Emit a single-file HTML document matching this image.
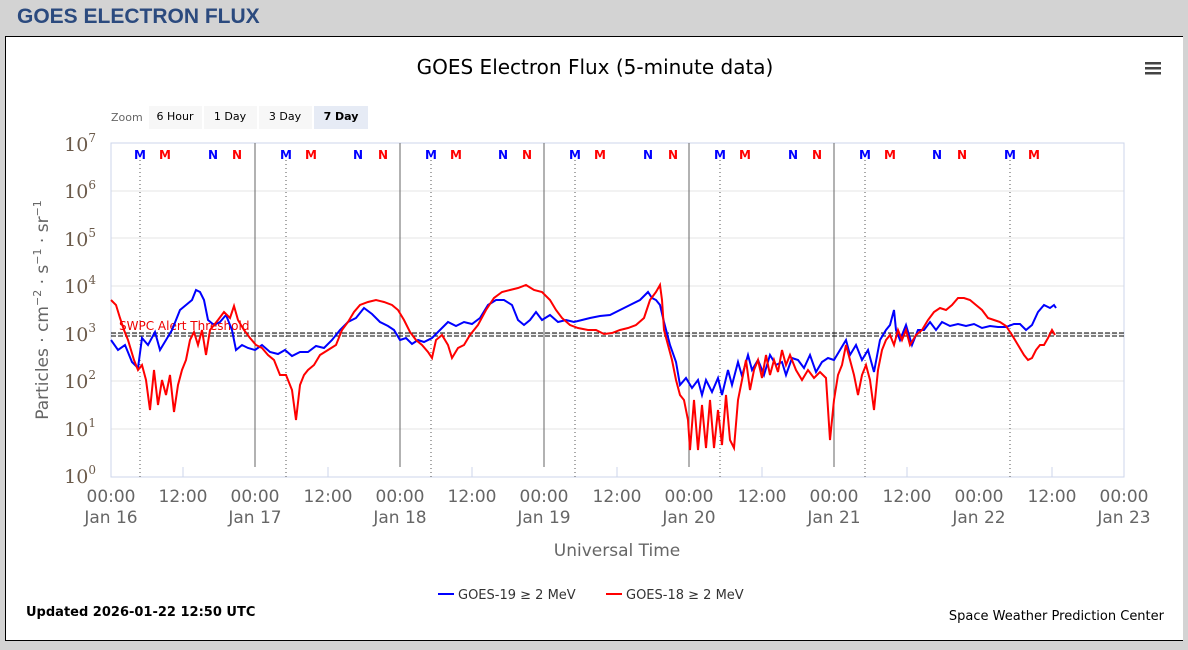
<!DOCTYPE html>
<html><head><meta charset="utf-8"><style>
body{margin:0;width:1188px;height:650px;background:#d3d3d3;overflow:hidden;font-family:"Liberation Sans",sans-serif}
.hdr{position:absolute;left:17px;top:5px;font-size:21px;font-weight:bold;color:#2b4a7e}
.box{position:absolute;left:5px;top:36px;width:1177px;height:603px;background:#fff;border:1px solid #000;border-right:none}
svg{position:absolute;left:0;top:0}
</style></head><body>
<div class="hdr">GOES ELECTRON FLUX</div>
<div class="box"></div>
<svg width="1188" height="650" font-family="DejaVu Sans, sans-serif">
<text x="595" y="74" text-anchor="middle" font-size="20" fill="#000">GOES Electron Flux (5-minute data)</text>
<g fill="#444"><rect x="1145" y="62" width="16" height="2.5"/><rect x="1145" y="67" width="16" height="2.5"/><rect x="1145" y="72" width="16" height="2.5"/></g>
<text x="111" y="121" font-size="11" fill="#666">Zoom</text>
<rect x="149" y="106" width="53" height="23" fill="#f7f7f7"/><text x="175" y="120" font-size="11" text-anchor="middle">6 Hour</text>
<rect x="204" y="106" width="53" height="23" fill="#f7f7f7"/><text x="230" y="120" font-size="11" text-anchor="middle">1 Day</text>
<rect x="259" y="106" width="53" height="23" fill="#f7f7f7"/><text x="285" y="120" font-size="11" text-anchor="middle">3 Day</text>
<rect x="314" y="106" width="54" height="23" fill="#e6ebf5"/><text x="341" y="120" font-size="11" text-anchor="middle" font-weight="bold">7 Day</text>
<g stroke="#e6e6e6"><line x1="111" x2="1124" y1="191" y2="191"/><line x1="111" x2="1124" y1="238" y2="238"/><line x1="111" x2="1124" y1="286" y2="286"/><line x1="111" x2="1124" y1="334" y2="334"/><line x1="111" x2="1124" y1="381" y2="381"/><line x1="111" x2="1124" y1="429" y2="429"/></g>
<rect x="111" y="143" width="1013" height="334" fill="none" stroke="#ccd6eb"/>
<g stroke="#666"><line x1="255" x2="255" y1="143" y2="467"/><line x1="400" x2="400" y1="143" y2="467"/><line x1="544" x2="544" y1="143" y2="467"/><line x1="689" x2="689" y1="143" y2="467"/><line x1="834" x2="834" y1="143" y2="467"/></g>
<g stroke="#555" stroke-dasharray="1,3"><line x1="140" x2="140" y1="160" y2="477"/><line x1="286" x2="286" y1="160" y2="477"/><line x1="431" x2="431" y1="160" y2="477"/><line x1="575" x2="575" y1="160" y2="477"/><line x1="720" x2="720" y1="160" y2="477"/><line x1="865" x2="865" y1="160" y2="477"/><line x1="1010" x2="1010" y1="160" y2="477"/></g>
<g font-size="12" font-weight="bold" text-anchor="middle">
<g fill="#00f"><text x="140" y="159">M</text><text x="286" y="159">M</text><text x="431" y="159">M</text><text x="575" y="159">M</text><text x="720" y="159">M</text><text x="865" y="159">M</text><text x="1010" y="159">M</text>
<text x="213" y="159">N</text><text x="358" y="159">N</text><text x="503" y="159">N</text><text x="648" y="159">N</text><text x="793" y="159">N</text><text x="937" y="159">N</text></g>
<g fill="#f00"><text x="165" y="159">M</text><text x="311" y="159">M</text><text x="456" y="159">M</text><text x="600" y="159">M</text><text x="745" y="159">M</text><text x="890" y="159">M</text><text x="1034" y="159">M</text>
<text x="237" y="159">N</text><text x="383" y="159">N</text><text x="527" y="159">N</text><text x="673" y="159">N</text><text x="817" y="159">N</text><text x="962" y="159">N</text></g></g>
<g stroke="#ccd6eb"><line x1="183" x2="183" y1="467" y2="477"/><line x1="328" x2="328" y1="467" y2="477"/><line x1="472" x2="472" y1="467" y2="477"/><line x1="617" x2="617" y1="467" y2="477"/><line x1="762" x2="762" y1="467" y2="477"/><line x1="907" x2="907" y1="467" y2="477"/><line x1="1052" x2="1052" y1="467" y2="477"/></g>
<g stroke="#000" stroke-dasharray="5,2"><line x1="111" x2="1124" y1="333" y2="333"/><line x1="111" x2="1124" y1="336" y2="336"/></g>
<text x="119" y="330" font-size="12" fill="#e00">SWPC Alert Threshold</text>
<polyline fill="none" stroke="#00f" stroke-width="2" points="111,340 118,350 125,345 132,362 138,368 142,338 148,345 155,332 160,350 166,340 172,330 180,310 186,305 192,300 196,290 200,292 204,300 208,320 214,325 220,322 226,315 232,330 236,350 242,345 248,348 255,350 262,345 270,352 278,354 285,350 292,356 300,352 308,352 316,346 324,348 332,340 340,330 348,322 356,318 364,308 372,314 380,322 388,326 394,330 400,340 406,338 412,344 418,340 424,342 432,338 440,330 448,322 456,326 464,322 472,324 480,318 488,305 496,300 504,300 512,305 518,320 524,325 530,320 536,312 542,320 550,315 558,322 566,320 574,322 582,320 590,318 600,316 610,315 620,310 630,305 640,300 648,292 652,298 656,300 660,305 664,322 670,345 676,362 680,385 686,378 692,388 698,380 702,395 706,380 712,392 718,378 722,395 728,370 732,385 738,362 742,376 748,355 752,370 758,360 764,375 770,355 776,365 782,362 786,375 792,358 798,360 804,368 810,355 816,372 822,362 828,358 834,360 840,350 846,340 850,355 856,345 862,360 868,350 874,372 880,340 886,330 890,325 894,310 896,330 900,340 906,325 912,345 918,330 924,330 930,322 936,330 942,322 950,326 958,324 966,326 974,324 982,328 990,326 998,327 1006,327 1014,324 1020,324 1026,330 1032,325 1038,312 1044,305 1050,308 1054,305 1056,308"/>
<polyline fill="none" stroke="#f00" stroke-width="2" points="111,300 116,305 120,318 124,330 128,340 134,360 138,370 142,365 146,380 150,410 154,370 158,405 162,380 166,395 170,375 174,412 178,385 182,370 186,360 190,340 194,332 198,345 202,330 206,355 210,330 214,325 218,320 224,312 230,318 234,306 238,320 244,330 250,338 256,345 262,348 268,355 274,360 280,375 286,375 292,390 296,420 300,385 304,375 308,370 314,365 320,355 328,350 336,345 342,330 348,322 354,312 360,305 368,302 376,300 384,302 392,305 398,310 404,320 410,332 416,340 422,345 428,352 432,358 436,340 442,335 448,345 452,358 458,348 464,345 470,335 478,325 486,310 494,298 502,292 510,290 518,288 526,285 534,290 542,292 550,300 556,310 562,318 570,325 578,328 588,330 596,330 604,334 612,333 620,330 628,328 636,325 644,318 650,300 656,292 660,285 662,300 664,330 668,345 672,360 676,380 680,395 684,400 688,420 690,450 694,400 698,450 702,405 706,448 710,400 714,448 718,410 722,445 726,395 730,440 734,448 738,400 742,380 746,360 750,390 754,370 758,360 762,378 766,355 770,375 774,360 778,372 782,350 786,365 790,355 796,370 802,380 808,370 814,378 820,372 826,378 830,440 834,400 838,375 842,365 846,345 850,360 854,375 858,395 862,375 866,365 870,380 874,410 878,370 882,350 886,340 890,335 894,345 898,330 902,340 906,330 910,345 916,335 922,330 928,320 934,312 940,308 946,310 952,305 958,298 964,298 970,300 976,305 982,310 988,318 994,320 1000,322 1006,326 1012,335 1018,345 1024,355 1028,360 1032,358 1036,350 1040,345 1044,345 1048,338 1052,330 1055,335"/>
<g font-family="DejaVu Serif, serif" font-size="19" fill="#6b5a4a" text-anchor="end">
<text x="96" y="151">10<tspan font-size="12" dy="-9">7</tspan></text>
<text x="96" y="198">10<tspan font-size="12" dy="-9">6</tspan></text>
<text x="96" y="246">10<tspan font-size="12" dy="-9">5</tspan></text>
<text x="96" y="293">10<tspan font-size="12" dy="-9">4</tspan></text>
<text x="96" y="341">10<tspan font-size="12" dy="-9">3</tspan></text>
<text x="96" y="388">10<tspan font-size="12" dy="-9">2</tspan></text>
<text x="96" y="436">10<tspan font-size="12" dy="-9">1</tspan></text>
<text x="96" y="483">10<tspan font-size="12" dy="-9">0</tspan></text></g>
<g font-size="17" fill="#666" text-anchor="middle">
<text x="111" y="502">00:00</text><text x="111" y="523">Jan 16</text>
<text x="183" y="502">12:00</text>
<text x="255" y="502">00:00</text><text x="255" y="523">Jan 17</text>
<text x="328" y="502">12:00</text>
<text x="400" y="502">00:00</text><text x="400" y="523">Jan 18</text>
<text x="472" y="502">12:00</text>
<text x="544" y="502">00:00</text><text x="544" y="523">Jan 19</text>
<text x="617" y="502">12:00</text>
<text x="689" y="502">00:00</text><text x="689" y="523">Jan 20</text>
<text x="762" y="502">12:00</text>
<text x="834" y="502">00:00</text><text x="834" y="523">Jan 21</text>
<text x="907" y="502">12:00</text>
<text x="979" y="502">00:00</text><text x="979" y="523">Jan 22</text>
<text x="1052" y="502">12:00</text>
<text x="1124" y="502">00:00</text><text x="1124" y="523">Jan 23</text>
<text x="617" y="556">Universal Time</text>
<text transform="translate(48,310) rotate(-90)">Particles · cm<tspan font-size="11" dy="-7">−2</tspan><tspan dy="7"> · s</tspan><tspan font-size="11" dy="-7">−1</tspan><tspan dy="7"> · sr</tspan><tspan font-size="11" dy="-7">−1</tspan></text></g>
<line x1="438" x2="454" y1="594" y2="594" stroke="#00f" stroke-width="2"/>
<text x="458" y="599" font-size="13" fill="#333">GOES-19 ≥ 2 MeV</text>
<line x1="606" x2="622" y1="594" y2="594" stroke="#f00" stroke-width="2"/>
<text x="626" y="599" font-size="13" fill="#333">GOES-18 ≥ 2 MeV</text>
<text x="26" y="616" font-size="13" font-weight="bold">Updated 2026-01-22 12:50 UTC</text>
<text x="1164" y="620" font-size="13" text-anchor="end">Space Weather Prediction Center</text>
</svg>
</body></html>
